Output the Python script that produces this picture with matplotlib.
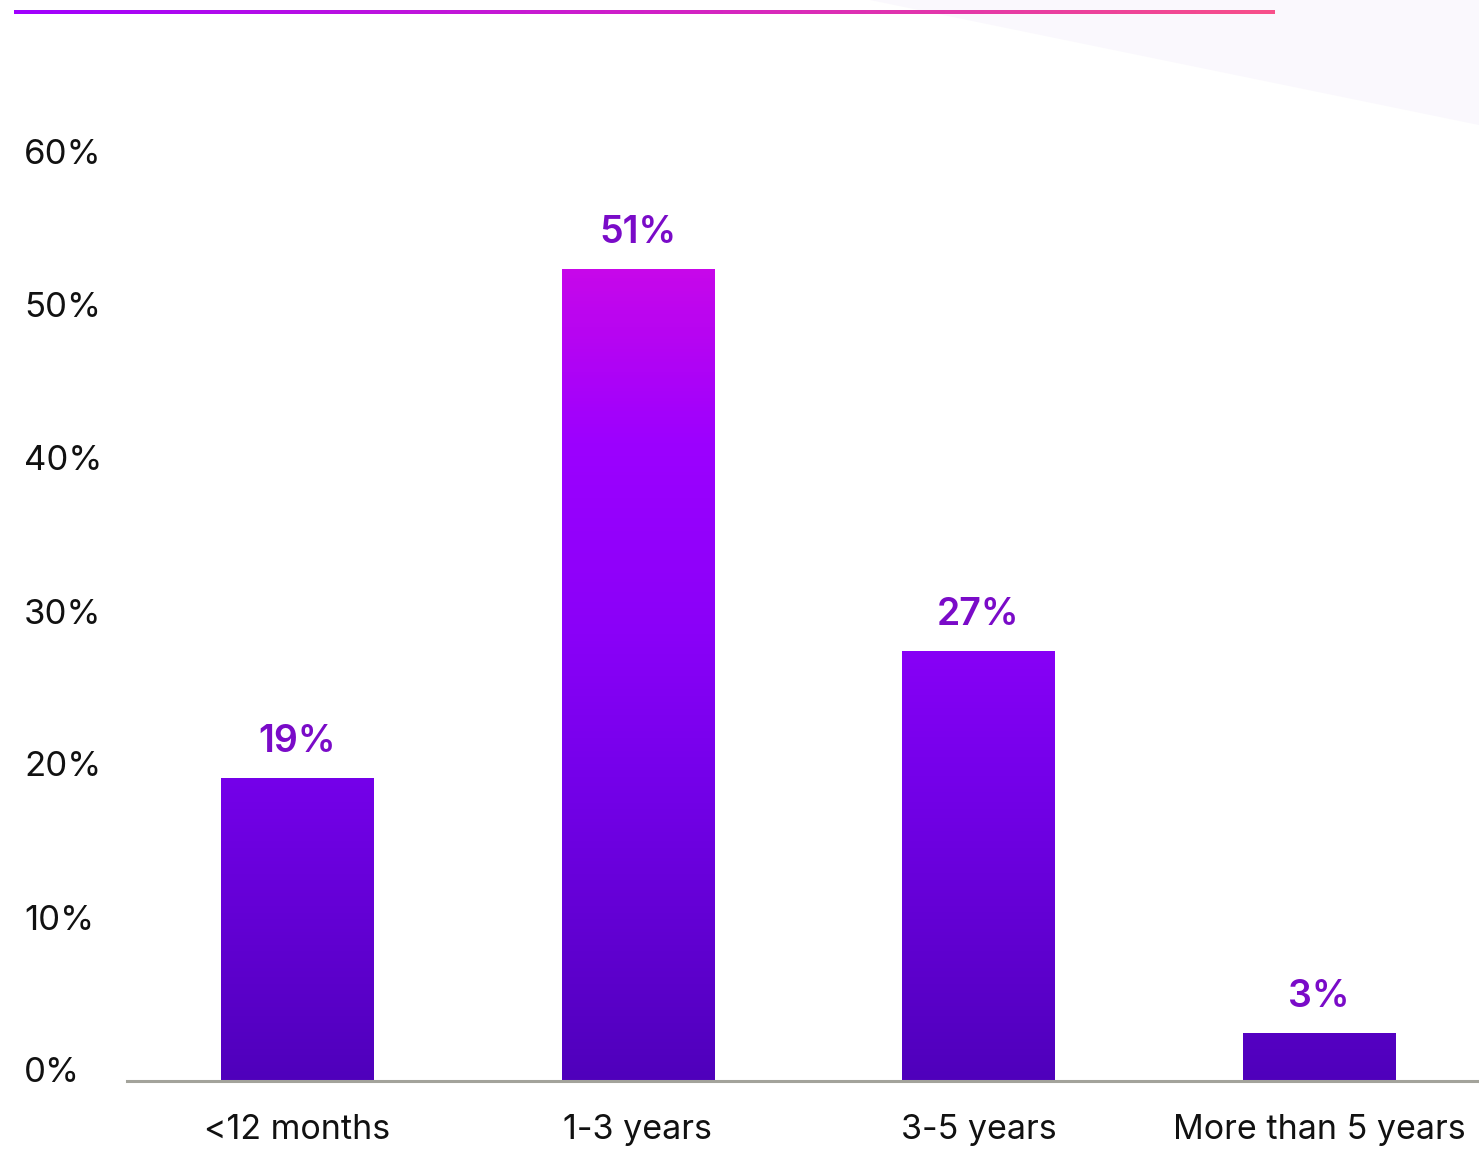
import numpy as np
import matplotlib.pyplot as plt
from matplotlib.colors import LinearSegmentedColormap

plt.rcParams['font.family'] = ['Inter', 'DejaVu Sans']

categories = ['<12 months', '1-3 years', '3-5 years', 'More than 5 years']
values = [19, 51, 27, 3]
value_labels = ['19%', '51%', '27%', '3%']
tick_values = [0, 10, 20, 30, 40, 50, 60]
tick_labels = ['0%', '10%', '20%', '30%', '40%', '50%', '60%']

W, H = 1479, 1149
fig = plt.figure(figsize=(W / 100, H / 100), dpi=100)

# faint lavender wash in the top right corner, behind everything
fig.patches.append(plt.Polygon([(870 / W, 1), (1, 1), (1, 1 - 125 / H)],
                               closed=True, transform=fig.transFigure,
                               facecolor='#faf8fd', edgecolor='none', zorder=-1))

# axes rectangle in pixels
x0, x1 = 127, 1479
y_base, y_top = 1081, 100
rect = [x0 / W, 1 - y_base / H, (x1 - x0) / W, (y_base - y_top) / H]

ax = fig.add_axes(rect)

# vertical gradient, clipped to each bar
cmap = LinearSegmentedColormap.from_list('bars', [
    (0.0, '#4f00bb'), (19 / 52, '#7500ea'), (28 / 52, '#8a00f8'),
    (40 / 52, '#9c00ff'), (1.0, '#cb08e8')])
grad = np.linspace(0, 1, 256).reshape(-1, 1)
bars = ax.bar(range(len(values)), values, width=0.447, color='none', zorder=2)
for b in bars:
    im = ax.imshow(grad, cmap=cmap, origin='lower', aspect='auto',
                   extent=[-0.5, 3.47, 0, 52], zorder=2)
    im.set_clip_path(b)
ax.set_xlim(-0.5, 3.47)
ax.set_ylim(0, (y_base - y_top) / 15.93)

for i, (v, lab) in enumerate(zip(values, value_labels)):
    ax.annotate(lab, (i, v), xytext=(0, 13), textcoords='offset points',
                ha='center', va='bottom', fontsize=27, fontweight='semibold',
                color='#7a0bc8')

ax.set_xticks(range(len(categories)))
ax.set_xticklabels(categories, fontsize=24.5, color='#111111')
ax.tick_params(axis='x', length=0, pad=24)
ax.set_yticks([])
for s in ['top', 'right', 'left']:
    ax.spines[s].set_visible(False)
ax.spines['bottom'].set_color('#a3a39b')
ax.spines['bottom'].set_linewidth(2.2)
ax.patch.set_alpha(0)

# tick labels sit on their own scale, as in the picture
ax2 = fig.add_axes(rect)
ax2.set_ylim(-11 / 15.3, (1070 - y_top) / 15.3)
ax2.set_yticks(tick_values)
ax2.set_yticklabels(tick_labels, fontsize=25, color='#111111', ha='left')
ax2.tick_params(axis='y', length=0, pad=74)
ax2.set_xticks([])
for s in ax2.spines.values():
    s.set_visible(False)
ax2.patch.set_alpha(0)

# gradient rule on top
line_ax = fig.add_axes([14 / W, 1 - 14 / H, (1275 - 14) / W, 4 / H])
line_grad = LinearSegmentedColormap.from_list('rule', ['#a000ff', '#d020c8', '#f8508a'])
line_ax.imshow(np.linspace(0, 1, 256).reshape(1, -1), cmap=line_grad, aspect='auto')
line_ax.axis('off')

plt.savefig('out.png', dpi=100)
